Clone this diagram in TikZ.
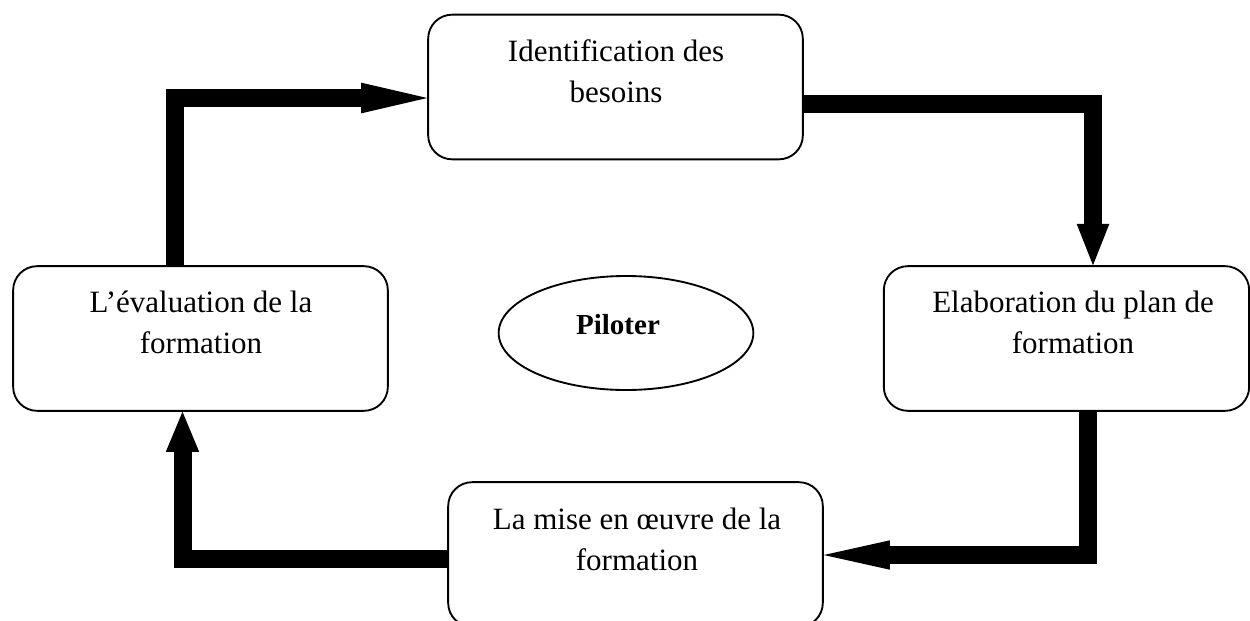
\documentclass[tikz,border=0pt]{standalone}
\usepackage{fontspec}
\setmainfont{Liberation Serif}
\usetikzlibrary{arrows.meta}
\usetikzlibrary{shapes.geometric,positioning}

\begin{document}
\begin{tikzpicture}[x=0.75pt,y=-0.75pt]
		\useasboundingbox (0,0) rectangle (1250,621);

		\begin{scope}[every node/.style={draw,line width=1.4pt,rounded corners=18pt,minimum width=281pt,minimum height=108.5pt}]
			\node (ident) at (615.5,87) {};
			\node[minimum width=274pt] (elab) at (1066.5,338.5) {};
			\node (eval) at (200.5,338.5) {};
			\node (mise) at (635.5,554.5) {};
			\node[ellipse,rounded corners=0pt,minimum width=191pt,minimum height=85.5pt] (pilot) at (626,333) {};
		\end{scope}

		\begin{scope}[every node/.style={align=center,inner sep=0pt,font=\fontsize{23.25}{30.75}\selectfont}]
			\node (identtxt) at (616,71.5) {Identification des\\besoins};
			\node (elabtxt) at (1073,322.5) {Elaboration du plan de\\formation};
			\node (evaltxt) at (201,322.5) {L’évaluation de la\\formation};
			\node (misetxt) at (637,539.5) {La mise en œuvre de la\\formation};
			\node[font=\bfseries\fontsize{21.75}{26}\selectfont] (pilottxt) at (618,325) {Piloter};
		\end{scope}

		\begin{scope}[line width=13.5pt]
			\draw[-{Triangle[length=49.5pt,width=23pt,line width=0pt]}] (eval.north -| 175,0) |- (ident.west |- 0,98);
			\draw[-{Triangle[length=31pt,width=24.5pt,line width=0pt]}] (ident.east |- 0,103.5) -| (elab.north -| 1093,0);
			\draw[-{Triangle[length=49.5pt,width=22pt,line width=0pt]}] (elab.south -| 1088,0) |- (mise.east |- 0,555);
			\draw[-{Triangle[length=30pt,width=25pt,line width=0pt]}] (mise.west |- 0,559) -| (eval.south -| 182.5,0);
		\end{scope}
	\end{tikzpicture}
\end{document}
